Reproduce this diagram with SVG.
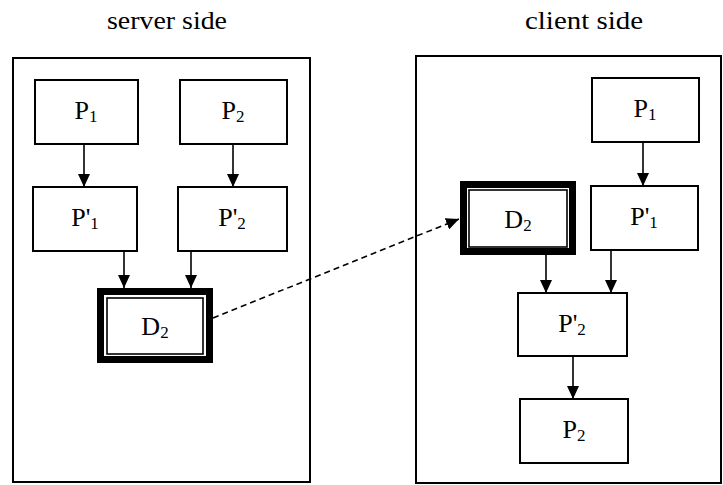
<svg xmlns="http://www.w3.org/2000/svg" width="723" height="485" viewBox="0 0 723 485">
<style>
  .frame{fill:none;stroke:#000;stroke-width:2}
  .box{fill:#fff;stroke:#000;stroke-width:2}
  .dbl-out{fill:#fff;stroke:#000;stroke-width:7}
  .dbl-in{fill:none;stroke:#000;stroke-width:1.6}
  .lbl{font-family:'Liberation Serif',Times,serif;font-size:26px;fill:#000;text-anchor:middle}
  .sub{font-size:17px}
  .title{font-family:'Liberation Serif',Times,serif;font-size:25px;fill:#000}
  .edge{stroke:#000;stroke-width:1.6;fill:none}
  .dash{stroke:#000;stroke-width:1.6;fill:none;stroke-dasharray:6 4}
</style>
<defs>
  <marker id="ah" markerUnits="userSpaceOnUse" markerWidth="14" markerHeight="12" refX="13" refY="6" orient="auto" viewBox="0 0 14 12">
    <path d="M0,0 L13,6 L0,12 Z" fill="#000"/>
  </marker>
</defs>

<text class="title" x="107" y="29" textLength="120" lengthAdjust="spacingAndGlyphs">server side</text>
<text class="title" x="525" y="29" textLength="118" lengthAdjust="spacingAndGlyphs">client side</text>

<g id="server-side">
  <rect class="frame" x="13" y="58" width="297" height="424"/>
</g>
<g id="client-side">
  <rect class="frame" x="416" y="56" width="305" height="427"/>
</g>

<g id="connectors">
  <line class="edge" x1="84" y1="144" x2="84" y2="187" marker-end="url(#ah)"/>
  <line class="edge" x1="233" y1="144" x2="233" y2="187" marker-end="url(#ah)"/>
  <line class="edge" x1="124" y1="251" x2="124" y2="288" marker-end="url(#ah)"/>
  <line class="edge" x1="191" y1="251" x2="191" y2="288" marker-end="url(#ah)"/>
  <line class="edge" x1="643" y1="142" x2="643" y2="186" marker-end="url(#ah)"/>
  <line class="edge" x1="546" y1="255" x2="546" y2="293" marker-end="url(#ah)"/>
  <line class="edge" x1="611" y1="250" x2="611" y2="293" marker-end="url(#ah)"/>
  <line class="edge" x1="573" y1="356" x2="573" y2="399" marker-end="url(#ah)"/>
  <line class="dash" x1="213" y1="318" x2="459" y2="219" marker-end="url(#ah)"/>
</g>

<g id="s-p1">
  <rect class="box" x="35" y="80" width="103" height="64"/>
  <text class="lbl" x="86" y="119">P<tspan class="sub" dy="3">1</tspan></text>
</g>
<g id="s-p2">
  <rect class="box" x="180" y="80" width="107" height="64"/>
  <text class="lbl" x="233" y="119">P<tspan class="sub" dy="3">2</tspan></text>
</g>
<g id="s-p1p">
  <rect class="box" x="33" y="187" width="104" height="64"/>
  <text class="lbl" x="85" y="226">P'<tspan class="sub" dy="3">1</tspan></text>
</g>
<g id="s-p2p">
  <rect class="box" x="178" y="187" width="109" height="64"/>
  <text class="lbl" x="232" y="226">P'<tspan class="sub" dy="3">2</tspan></text>
</g>
<g id="s-d2">
  <rect class="dbl-out" x="100.5" y="291.5" width="109" height="68"/>
  <rect class="dbl-in" x="107" y="298" width="96" height="56"/>
  <text class="lbl" x="155" y="335">D<tspan class="sub" dy="3">2</tspan></text>
</g>

<g id="c-p1">
  <rect class="box" x="592" y="78" width="107" height="64"/>
  <text class="lbl" x="645" y="117">P<tspan class="sub" dy="3">1</tspan></text>
</g>
<g id="c-p1p">
  <rect class="box" x="591" y="186" width="107" height="64"/>
  <text class="lbl" x="644" y="225">P'<tspan class="sub" dy="3">1</tspan></text>
</g>
<g id="c-d2">
  <rect class="dbl-out" x="463.5" y="184.5" width="109" height="67"/>
  <rect class="dbl-in" x="469" y="190" width="98" height="57"/>
  <text class="lbl" x="518" y="228">D<tspan class="sub" dy="3">2</tspan></text>
</g>
<g id="c-p2p">
  <rect class="box" x="518" y="293" width="109" height="63"/>
  <text class="lbl" x="572" y="332">P'<tspan class="sub" dy="3">2</tspan></text>
</g>
<g id="c-p2">
  <rect class="box" x="520" y="399" width="108" height="64"/>
  <text class="lbl" x="574" y="438">P<tspan class="sub" dy="3">2</tspan></text>
</g>
</svg>
